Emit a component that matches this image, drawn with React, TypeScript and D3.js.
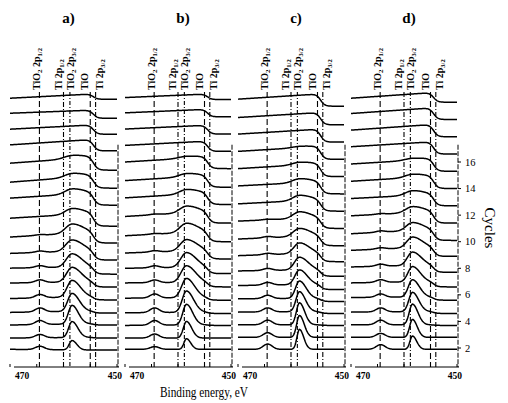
import React from 'react';
import * as d3 from 'd3';

// ---------- data ----------
const PANEL_NAMES = ['a)', 'b)', 'c)', 'd)'];
const ENERGY_RANGE = [470, 450];
const X_TICK_LABELS = ['470', '450'];
const X_TICKS = [470, 465, 460, 455, 450];
const CYCLE_TICKS = [2, 4, 6, 8, 10, 12, 14, 16];
const MARKER_ENERGY = [464.5, 460.0, 458.8, 455.0, 454.0];
const MARKER_MAIN = ['TiO', 'Ti', 'TiO', 'TiO', 'Ti'];
const MARKER_SUB = ['2', '', '2', '', ''];
const MARKER_LEVEL = ['1/2', '1/2', '3/2', '', '3/2'];
const MARKER_DASH = ['6,3', '5,2,1,2', '4,2,1,2', '6,3', '5,2,1,2'];

const PEAK_E = 458.4;   // TiO2 2p3/2 maximum
const P1_E = 464.4;     // TiO2 2p1/2 maximum
const EDGE_E = 454.4;   // Ti 2p3/2 edge

// spectra listed top (last cycle) to bottom (first cycle); intensities in cycle units
const aOff = [20.72, 19.29, 18.09, 16.84, 15.38, 14.03, 12.75, 11.17, 9.9, 8.62, 7.56, 6.59, 5.62, 4.63, 3.73, 2.75, 1.85];
const aLv = [0.08, 0.38, 0.38, 0.45, 0.53, 0.45, 0.53, 0.6, 0.45, 0.5, 0.45, 0.3, 0.1, 0.05, 0, 0, 0.05];
const aHm = [0.38, 0.6, 0.68, 0.83, 0.95, 0.9, 0.9, 0.95, 0.8, 0.7, 0.55, 0.4, 0.25, 0.15, 0.1, 0.05, 0];
const aPk = [0, 0, 0, 0, 0.25, 0.3, 0.4, 0.45, 0.7, 0.85, 1.0, 1.1, 1.25, 1.35, 1.4, 1.2, 0.7];
const aPw = [2.5, 2.5, 2.5, 2.5, 2.8, 2.6, 2.5, 2.4, 2.3, 2.2, 2.0, 1.9, 1.7, 1.5, 1.3, 1.2, 1.0];
const aP1 = [0, 0, 0, 0, 0, 0, 0, 0, 0.05, 0.1, 0.15, 0.2, 0.25, 0.3, 0.3, 0.25, 0.25];

const bOff = [20.7, 19.4, 18.1, 16.8, 15.5, 14.1, 12.8, 11.4, 10.0, 8.7, 7.6, 6.6, 5.6, 4.6, 3.7, 2.75, 1.9];
const bLv = [0.15, 0.3, 0.38, 0.45, 0.5, 0.5, 0.5, 0.5, 0.45, 0.45, 0.4, 0.3, 0.15, 0.05, 0, 0, 0];
const bHm = [0.4, 0.55, 0.65, 0.75, 0.85, 0.85, 0.85, 0.85, 0.75, 0.65, 0.5, 0.35, 0.2, 0.1, 0.05, 0, 0];
const bPk = [0, 0, 0, 0, 0.15, 0.25, 0.35, 0.5, 0.7, 0.85, 1.1, 1.25, 1.45, 1.6, 1.55, 1.25, 0.8];
const bPw = [2.5, 2.5, 2.5, 2.5, 2.8, 2.6, 2.5, 2.4, 2.3, 2.2, 2.0, 1.9, 1.7, 1.5, 1.3, 1.1, 0.9];
const bP1 = [0, 0, 0, 0, 0, 0, 0, 0.05, 0.05, 0.1, 0.15, 0.2, 0.3, 0.35, 0.35, 0.3, 0.2];

const cOff = [20.2, 18.8, 17.5, 16.2, 14.9, 13.6, 12.3, 11.0, 9.7, 8.5, 7.4, 6.4, 5.5, 4.6, 3.7, 2.8, 1.9];
const cLv = [0.53, 0.55, 0.6, 0.6, 0.6, 0.6, 0.55, 0.55, 0.5, 0.45, 0.4, 0.3, 0.2, 0.1, 0.05, 0, 0];
const cHm = [0.9, 0.9, 0.95, 0.95, 0.95, 0.9, 0.85, 0.8, 0.75, 0.65, 0.5, 0.4, 0.25, 0.15, 0.05, 0, 0];
const cPk = [0, 0, 0, 0.1, 0.2, 0.3, 0.4, 0.5, 0.6, 0.8, 0.95, 1.1, 1.3, 1.5, 1.65, 1.65, 1.5];
const cPw = [2.5, 2.5, 2.5, 2.6, 2.6, 2.5, 2.4, 2.3, 2.2, 2.0, 1.8, 1.6, 1.4, 1.25, 1.1, 1.0, 0.9];
const cP1 = [0, 0, 0, 0, 0, 0, 0, 0.05, 0.1, 0.1, 0.15, 0.2, 0.25, 0.3, 0.35, 0.35, 0.4];

const dOff = [20.5, 19.2, 17.9, 16.6, 15.3, 14.0, 12.7, 11.4, 10.1, 8.9, 7.7, 6.6, 5.6, 4.6, 3.7, 2.8, 1.9];
const dLv = [0.3, 0.45, 0.5, 0.55, 0.55, 0.55, 0.55, 0.55, 0.5, 0.45, 0.4, 0.3, 0.2, 0.1, 0.05, 0, 0];
const dHm = [0.7, 0.85, 0.9, 0.9, 0.9, 0.9, 0.85, 0.85, 0.8, 0.7, 0.55, 0.4, 0.25, 0.15, 0.05, 0, 0];
const dPk = [0, 0, 0, 0, 0.15, 0.25, 0.35, 0.45, 0.6, 0.8, 1.0, 1.15, 1.3, 1.45, 1.55, 1.35, 1.0];
const dPw = [2.5, 2.5, 2.5, 2.5, 2.7, 2.6, 2.5, 2.4, 2.2, 2.0, 1.8, 1.6, 1.45, 1.3, 1.15, 1.0, 0.9];
const dP1 = [0, 0, 0, 0, 0, 0, 0, 0.05, 0.1, 0.1, 0.15, 0.2, 0.25, 0.3, 0.35, 0.3, 0.35];

// ---------- layout ----------
const PANEL_X = [[10, 117], [125, 231], [238, 344], [351, 457]];
const AXIS_Y = 367;
const LABEL_BASE_Y = 90;
const LABEL_DX = [1, -2, 4, -2, 7];
const FONT = '"Liberation Serif", "DejaVu Serif", serif';

function intensity(e: number, lv: number, hm: number, pk: number, pw: number, p1: number) {
  const t = Math.max(0, Math.min(1, (470 - e) / 14.5));
  const sig = 1 / (1 + Math.exp(-(e - EDGE_E) / 0.4));
  const bg = (lv + (hm - lv) * t) * sig;
  const w = e > PEAK_E ? pw * 0.75 : pw * 1.25; // tail towards lower binding energy
  return bg + pk * Math.exp(-(((e - PEAK_E) / w) ** 2)) + p1 * Math.exp(-(((e - P1_E) / 1.2) ** 2));
}

export default function App() {
  const sets = [
    [aOff, aLv, aHm, aPk, aPw, aP1],
    [bOff, bLv, bHm, bPk, bPw, bP1],
    [cOff, cLv, cHm, cPk, cPw, cP1],
    [dOff, dLv, dHm, dPk, dPw, dP1],
  ];
  const y = d3.scaleLinear().domain([2, 16]).range([348, 162]);
  const grid = d3.range(ENERGY_RANGE[0], ENERGY_RANGE[1] - 0.001, -0.1);

  return (
    <svg width={508} height={403} style={{ position: 'absolute', left: 0, top: 0, background: '#fff' }}
      fontFamily={FONT}>
      <rect width={508} height={403} fill="#fff" />
      {sets.map((s, p) => {
        const [off, lv, hm, pk, pw, p1] = s;
        const x = d3.scaleLinear().domain(ENERGY_RANGE).range(PANEL_X[p]);
        const [x0, x1] = PANEL_X[p];
        return (
          <g key={p}>
            <text x={(x0 + x1) / 2 + 5} y={23} fontSize={15} fontWeight="bold" textAnchor="middle">{PANEL_NAMES[p]}</text>
            {MARKER_ENERGY.map((e, i) => (
              <g key={i}>
                <line x1={x(e)} x2={x(e)} y1={92} y2={AXIS_Y} stroke="#000" strokeWidth={1.1} strokeDasharray={MARKER_DASH[i]} />
                <text transform={`translate(${x(e) + LABEL_DX[i]},${LABEL_BASE_Y}) rotate(-90)`} fontSize={10} fontWeight="bold">
                  {MARKER_MAIN[i]}
                  {MARKER_SUB[i] && <tspan fontSize={7} dy={2}>{MARKER_SUB[i]}</tspan>}
                  {MARKER_LEVEL[i] && <tspan dy={MARKER_SUB[i] ? -2 : 0} fontSize={10}>{' 2p'}</tspan>}
                  {MARKER_LEVEL[i] && <tspan fontSize={6.5} dy={2}>{MARKER_LEVEL[i]}</tspan>}
                </text>
              </g>
            ))}
            {off.map((o, k) => {
              const path = d3.line<number>()
                .x(e => x(e))
                .y(e => y(o + intensity(e, lv[k], hm[k], pk[k], pw[k], p1[k])))
                .curve(d3.curveLinear)(grid);
              return <path key={k} d={path || ''} fill="none" stroke="#000" strokeWidth={1.5} />;
            })}
            <line x1={x0 + 4} x2={x1 + 2} y1={AXIS_Y} y2={AXIS_Y} stroke="#000" strokeWidth={1} />
            {X_TICKS.map(t => (
              <line key={t} x1={x(t)} x2={x(t)} y1={AXIS_Y} y2={AXIS_Y - 3} stroke="#000" strokeWidth={1} />
            ))}
            <text x={x0 + 5} y={379} fontSize={9.5} fontWeight="bold">{X_TICK_LABELS[0]}</text>
            <text x={x1 + 5} y={379} fontSize={9.5} fontWeight="bold" textAnchor="end">{X_TICK_LABELS[1]}</text>
            <line x1={x1 + 1} x2={x1 + 1} y1={y(17.3)} y2={AXIS_Y} stroke="#000" strokeWidth={1} strokeDasharray="5,1.5" />
            {p === 3 && CYCLE_TICKS.map(c => (
              <g key={c}>
                <line x1={x1 + 1} x2={x1 + 4} y1={y(c)} y2={y(c)} stroke="#000" strokeWidth={1} />
                <text x={x1 + 8} y={y(c) + 3.5} fontSize={10.5}>{c}</text>
              </g>
            ))}
          </g>
        );
      })}
      <text x={204} y={397} fontSize={14.5} textAnchor="middle" textLength={88} lengthAdjust="spacingAndGlyphs">Binding energy, eV</text>
      <text transform="translate(485,228) rotate(90)" fontSize={15} textAnchor="middle">Cycles</text>
    </svg>
  );
}
